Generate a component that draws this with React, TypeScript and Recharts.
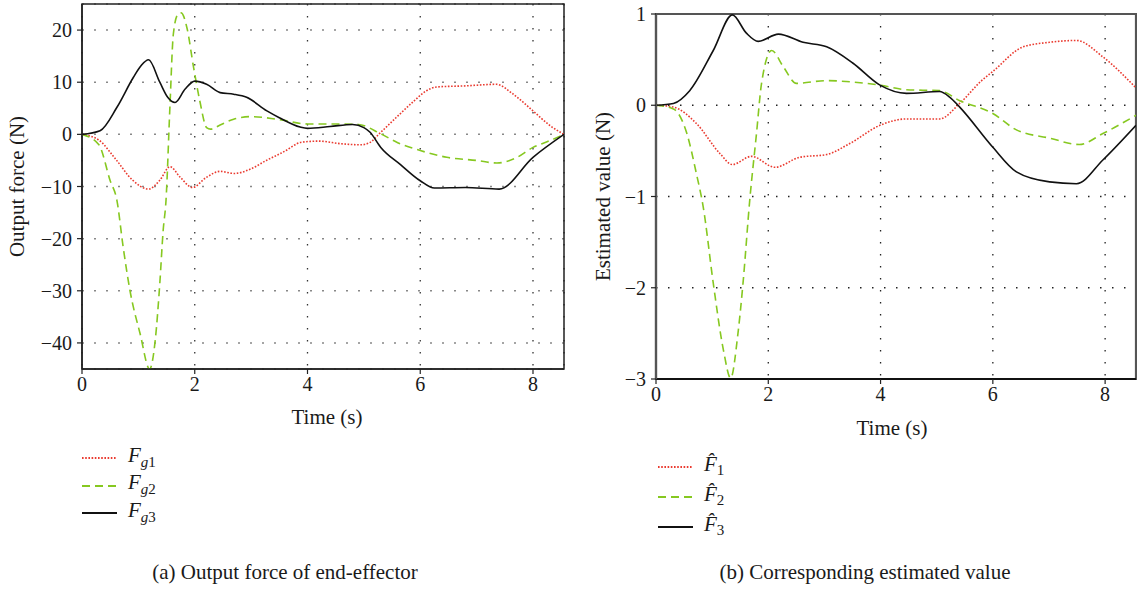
import React from 'react'
import { CartesianGrid, Line, LineChart, ReferenceArea, XAxis, YAxis } from 'recharts'

// ---- data ----
const timeTicks = [0, 2, 4, 6, 8]
const forceTicks = [-40, -30, -20, -10, 0, 10, 20]
const estTicks = [-3, -2, -1, 0, 1]

// (a) output force of end-effector
const fg1T = [0, 0.3, 0.6, 0.9, 1.18, 1.38, 1.56, 1.74, 1.96, 2.2, 2.45, 2.7, 3.0, 3.27, 3.57, 3.9, 4.2, 4.6, 4.95, 5.1, 5.3, 5.6, 5.9, 6.1, 6.3, 6.8, 7.35, 7.65, 8.0, 8.3, 8.55]
const fg1 = [0, -1.1, -4.8, -8.8, -10.5, -8.8, -6.2, -8.2, -10.2, -8.3, -7.1, -7.5, -6.6, -5.0, -3.4, -1.5, -1.3, -1.8, -2.0, -1.6, 0.4, 3.5, 6.5, 8.3, 9.1, 9.3, 9.6, 7.7, 4.5, 1.7, 0]

const fg2T = [0, 0.3, 0.5, 0.62, 0.73, 0.85, 1.03, 1.2, 1.3, 1.38, 1.44, 1.49, 1.56, 1.62, 1.7, 1.76, 1.86, 1.98, 2.09, 2.21, 2.28, 2.45, 2.69, 3.0, 3.46, 4.0, 4.5, 4.9, 5.3, 5.6, 6.0, 6.47, 7.0, 7.36, 7.7, 8.0, 8.3, 8.55]
const fg2 = [0, -2.0, -8.9, -12.7, -21.6, -29.9, -38.2, -45, -39.4, -28.6, -18.4, -12.7, 5.4, 19.2, 23.0, 23.3, 20.5, 12.8, 6.4, 1.3, 1.0, 1.8, 2.9, 3.4, 2.9, 2.0, 2.0, 1.9, 0.1, -1.6, -3.1, -4.4, -5.0, -5.5, -4.5, -2.5, -1.2, 0]

const fg3T = [0, 0.32, 0.62, 0.91, 1.05, 1.18, 1.38, 1.52, 1.65, 1.83, 2.0, 2.21, 2.45, 2.69, 2.92, 3.28, 3.5, 3.87, 4.0, 4.4, 4.8, 5.0, 5.11, 5.3, 5.65, 6.0, 6.25, 6.8, 7.4, 8.0, 8.55]
const fg3 = [0, 0.7, 5.2, 10.9, 13.2, 14.3, 10.0, 7.1, 6.1, 8.7, 10.2, 9.6, 8.0, 7.7, 7.1, 4.5, 3.2, 1.4, 1.15, 1.5, 1.9, 1.3, 0.4, -2.5, -5.8, -8.9, -10.3, -10.2, -10.5, -4.4, 0]

// (b) corresponding estimated value
const f1T = [0, 0.31, 0.72, 1.14, 1.36, 1.7, 2.12, 2.56, 3.04, 3.45, 3.99, 4.46, 5.05, 5.41, 5.8, 6.0, 6.54, 7.01, 7.49, 7.96, 8.55]
const f1 = [0, -0.02, -0.2, -0.53, -0.65, -0.56, -0.68, -0.57, -0.54, -0.42, -0.22, -0.15, -0.15, 0.02, 0.27, 0.37, 0.64, 0.69, 0.71, 0.53, 0.19]

const f2T = [0, 0.31, 0.55, 0.72, 0.84, 1.02, 1.2, 1.33, 1.46, 1.55, 1.67, 1.79, 1.88, 2.06, 2.27, 2.5, 3.04, 3.39, 3.99, 4.46, 5.05, 5.41, 6.0, 6.42, 7.01, 7.54, 7.96, 8.55]
const f2 = [0, -0.04, -0.31, -0.75, -1.11, -1.95, -2.68, -2.99, -2.5, -1.95, -1.04, -0.31, 0.24, 0.6, 0.42, 0.24, 0.27, 0.26, 0.22, 0.17, 0.16, 0.05, -0.09, -0.27, -0.36, -0.43, -0.31, -0.11]

const f3T = [0, 0.31, 0.6, 1.02, 1.36, 1.61, 1.82, 2.18, 2.62, 3.04, 3.51, 3.99, 4.46, 5.05, 5.23, 5.41, 6.0, 6.42, 7.01, 7.49, 7.96, 8.55]
const f3 = [0, 0.02, 0.16, 0.6, 0.99, 0.79, 0.7, 0.78, 0.69, 0.64, 0.46, 0.22, 0.13, 0.15, 0.09, -0.02, -0.46, -0.73, -0.84, -0.86, -0.6, -0.22]

const T_MAX = 8.55
const FONT = '"Liberation Serif", "Times New Roman", serif'
const RED = '#ea3b30'
const GREEN = '#86c820'
const BLACK = '#111'

const pts = (t: number[], v: number[]) => t.map((x, i) => ({ t: x, v: v[i] }))
const fmt = (v: number) => (v < 0 ? `\u2212${-v}` : `${v}`)

const tickStyle = { fontSize: 20, fontFamily: FONT, fill: '#1a1a1a' }

const YLabel = ({ viewBox, value, dx }: any) => {
  const cx = viewBox.x + dx
  const cy = viewBox.y + viewBox.height / 2
  return (
    <text x={cx} y={cy} transform={`rotate(-90 ${cx} ${cy})`} textAnchor="middle" dominantBaseline="central"
      style={{ fontSize: 21, fontFamily: FONT, fill: '#1a1a1a' }}>{value}</text>
  )
}

const XLabel = ({ viewBox, value, dx, dy }: any) => (
  <text x={viewBox.x + viewBox.width / 2 + dx} y={viewBox.y + dy} textAnchor="middle"
    style={{ fontSize: 21, fontFamily: FONT, fill: '#1a1a1a' }}>{value}</text>
)

const series = (color: string) => {
  if (color === RED) return { stroke: RED, strokeWidth: 1.6, strokeDasharray: '1.6 1.6' }
  if (color === GREEN) return { stroke: GREEN, strokeWidth: 1.6, strokeDasharray: '8 5' }
  return { stroke: BLACK, strokeWidth: 1.6 }
}

const LegendRows = ({ items, left, top, step }: any) => (
  <>
    {items.map((it: any, i: number) => (
      <div key={i} style={{ position: 'absolute', left, top: top + i * step - 14, height: 28, display: 'flex', alignItems: 'center' }}>
        <svg width={36} height={6} style={{ display: 'block' }}>
          <line x1={0} y1={3} x2={35} y2={3} {...series(it.color)} strokeWidth={it.color === BLACK ? 2.2 : 1.8} />
        </svg>
        <span style={{ marginLeft: 10, fontFamily: FONT, fontSize: 21, color: '#1a1a1a', lineHeight: '28px', whiteSpace: 'nowrap' }}>{it.label}</span>
      </div>
    ))}
  </>
)

const Hat = ({ n }: { n: number }) => (
  <span>
    <i>{'F\u0302'}</i>
    <sub style={{ fontSize: 15, verticalAlign: '-4px' }}>{n}</sub>
  </span>
)

const Fg = ({ n }: { n: number }) => (
  <span>
    <i>F</i>
    <sub style={{ fontSize: 15, verticalAlign: '-5px' }}><i>g</i>{n}</sub>
  </span>
)

const App = () => {
  return (
    <div style={{ position: 'absolute', left: 0, top: 0, width: 1137, height: 591, background: '#fff', overflow: 'hidden' }}>
      {/* (a) */}
      <div style={{ position: 'absolute', left: 0, top: 0 }}>
        <LineChart width={570} height={440} margin={{ top: 4, right: 6, left: 0, bottom: 0 }}>
          <CartesianGrid vertical={false} stroke="#888" strokeWidth={1.5} strokeDasharray="2 10" />
          <CartesianGrid horizontal={false} stroke="#333" strokeWidth={1.3} strokeDasharray="1.5 10.5" />
          <XAxis type="number" dataKey="t" domain={[0, T_MAX]} ticks={timeTicks} allowDataOverflow height={71}
            tick={tickStyle} tickSize={5} tickMargin={3} axisLine={{ stroke: '#222', strokeWidth: 1.5 }} tickLine={{ stroke: '#222', strokeWidth: 1.2 }}
            label={<XLabel value="Time (s)" dx={4} dy={55} />} />
          <YAxis type="number" domain={[-45, 25]} ticks={forceTicks} allowDataOverflow width={82} tickFormatter={fmt}
            tick={tickStyle} tickSize={5} tickMargin={5} axisLine={{ stroke: '#222', strokeWidth: 1.5 }} tickLine={{ stroke: '#222', strokeWidth: 1.2 }}
            label={<YLabel value="Output force (N)" dx={17} />} />
          <ReferenceArea x1={0} x2={T_MAX} y1={-45} y2={25} fill="none" stroke="#222" strokeWidth={1.5} />
          <Line data={pts(fg1T, fg1)} dataKey="v" type="monotone" dot={false} isAnimationActive={false} {...series(RED)} />
          <Line data={pts(fg2T, fg2)} dataKey="v" type="monotone" dot={false} isAnimationActive={false} {...series(GREEN)} />
          <Line data={pts(fg3T, fg3)} dataKey="v" type="monotone" dot={false} isAnimationActive={false} {...series(BLACK)} />
        </LineChart>
      </div>
      <LegendRows left={82} top={458} step={27.5} items={[
        { color: RED, label: <Fg n={1} /> },
        { color: GREEN, label: <Fg n={2} /> },
        { color: BLACK, label: <Fg n={3} /> },
      ]} />
      <div style={{ position: 'absolute', left: -15, width: 600, top: 560, textAlign: 'center', fontFamily: FONT, fontSize: 21, color: '#1a1a1a' }}>
        (a) Output force of end-effector
      </div>

      {/* (b) */}
      <div style={{ position: 'absolute', left: 580, top: 0 }}>
        <LineChart width={557} height={450} margin={{ top: 14, right: 1, left: 0, bottom: 0 }}>
          <CartesianGrid vertical={false} stroke="#222" strokeWidth={1.3} strokeDasharray="1.5 10.5" />
          <CartesianGrid horizontal={false} stroke="#222" strokeWidth={1.3} strokeDasharray="1.5 10.5" />
          <ReferenceArea x1={0} x2={T_MAX} y1={-3} y2={1} fill="none" stroke="#555" strokeWidth={2.2} />
          <XAxis type="number" dataKey="t" domain={[0, T_MAX]} ticks={timeTicks} allowDataOverflow height={71}
            tick={tickStyle} tickSize={5} tickMargin={3} axisLine={{ stroke: '#111', strokeWidth: 2 }} tickLine={{ stroke: '#222', strokeWidth: 1.2 }}
            label={<XLabel value="Time (s)" dx={-4} dy={56} />} />
          <YAxis type="number" domain={[-3, 1]} ticks={estTicks} allowDataOverflow width={76} tickFormatter={fmt}
            tick={tickStyle} tickSize={5} tickMargin={5} axisLine={{ stroke: '#555', strokeWidth: 2.2 }} tickLine={{ stroke: '#222', strokeWidth: 1.2 }}
            label={<YLabel value="Estimated value (N)" dx={23} />} />
          <Line data={pts(f1T, f1)} dataKey="v" type="monotone" dot={false} isAnimationActive={false} {...series(RED)} />
          <Line data={pts(f2T, f2)} dataKey="v" type="monotone" dot={false} isAnimationActive={false} {...series(GREEN)} />
          <Line data={pts(f3T, f3)} dataKey="v" type="monotone" dot={false} isAnimationActive={false} {...series(BLACK)} />
        </LineChart>
      </div>
      <LegendRows left={658} top={467} step={30} items={[
        { color: RED, label: <Hat n={1} /> },
        { color: GREEN, label: <Hat n={2} /> },
        { color: BLACK, label: <Hat n={3} /> },
      ]} />
      <div style={{ position: 'absolute', left: 565, width: 600, top: 560, textAlign: 'center', fontFamily: FONT, fontSize: 21, color: '#1a1a1a' }}>
        (b) Corresponding estimated value
      </div>
    </div>
  )
}

export default App
